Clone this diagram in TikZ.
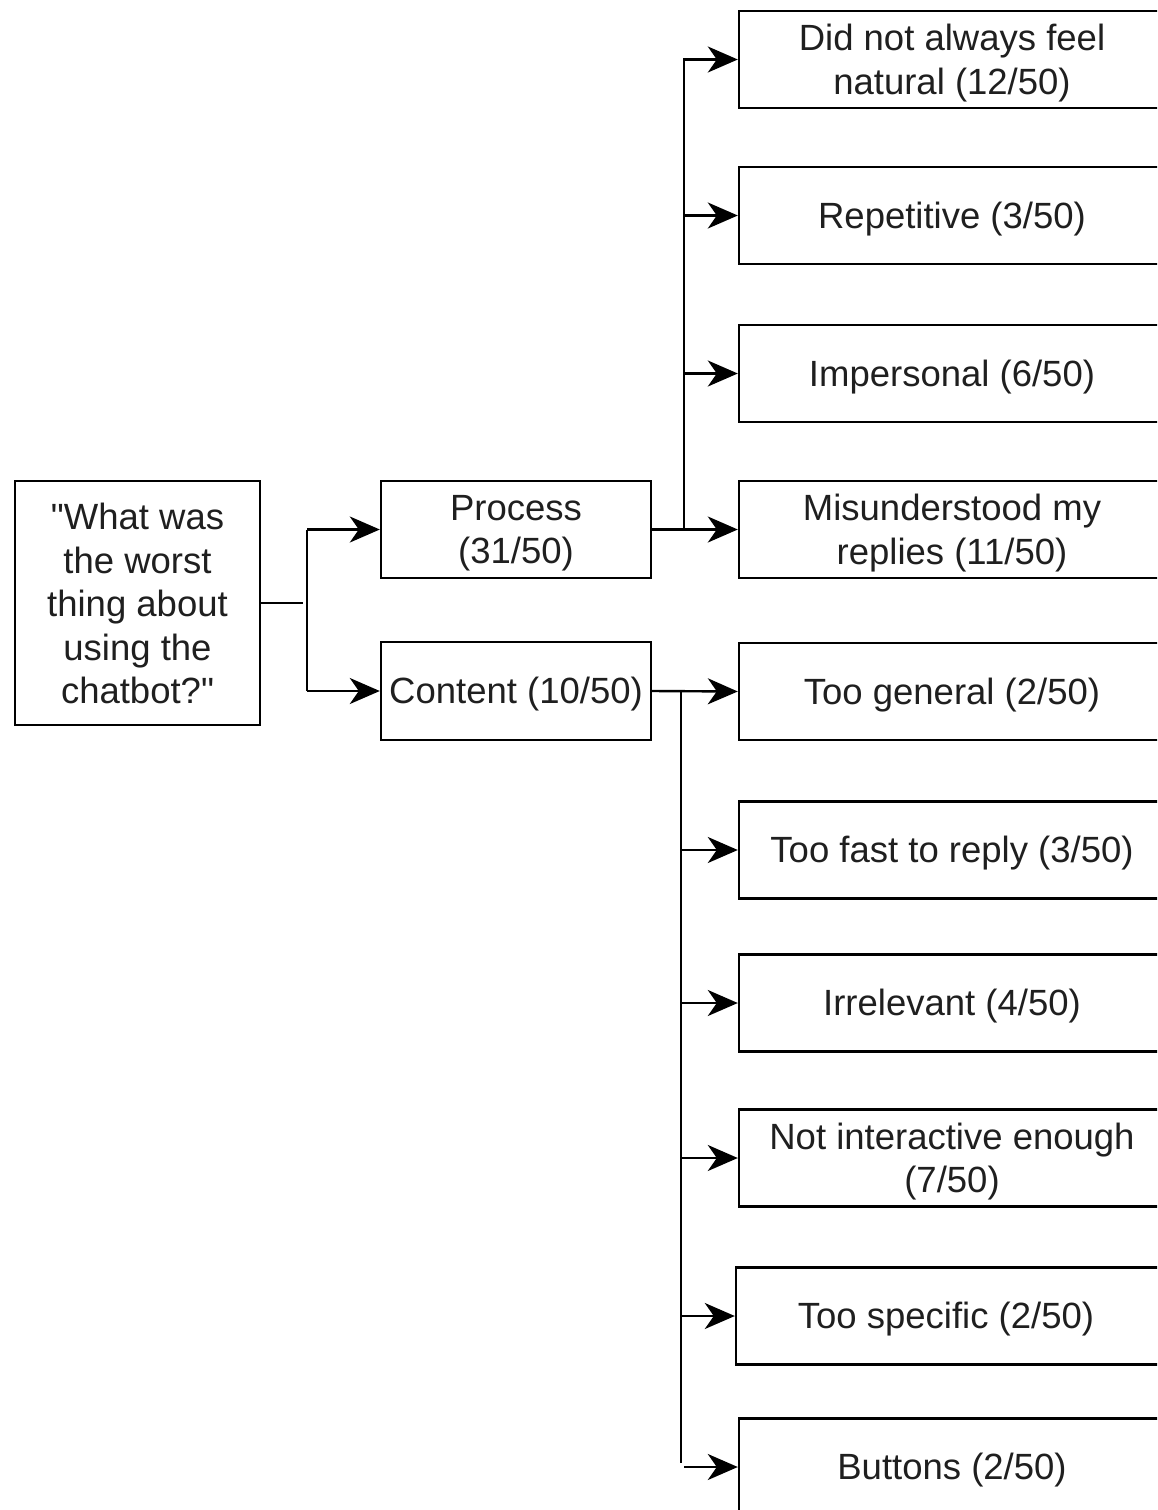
\documentclass[tikz,border=0pt]{standalone}
\usepackage{fontspec}
\newfontfamily\dfont{Liberation Sans}
\usetikzlibrary{arrows.meta}
\begin{document}
\begin{tikzpicture}[
  box/.style={draw, line width=2.4pt, inner sep=0pt},
  rbox/.style={box, minimum width=426pt, minimum height=97pt},
  txt/.style={align=center, inner sep=0pt, font=\dfont\fontsize{36.5}{43.5}\selectfont, text=black!88, yshift=-3.5pt},
  arr/.style={line width=2.4pt, -{Stealth[length=30pt,width=26pt,inset=9pt]}},
  ln/.style={line width=2.4pt}]
\clip (0,0) rectangle (1157pt,-1510pt);
% left nodes
\node[box, minimum width=245pt, minimum height=244pt] (root) at (137.5pt,-603pt) {};
\node[txt, yshift=3pt] (roott) at (root) {"What was\\the worst\\thing about\\using the\\chatbot?"};
\node[box, minimum width=270pt, minimum height=97pt] (proc) at (516pt,-529.5pt) {};
\node[txt] (proct) at (proc) {Process\\(31/50)};
\node[box, minimum width=270pt, minimum height=98pt] (cont) at (516pt,-691pt) {};
\node[txt] (contt) at (cont) {Content (10/50)};
% right nodes
\node[rbox] (r1) at (952pt,-59.5pt) {};
\node[txt] (r1t) at (r1) {Did not always feel\\natural (12/50)};
\node[rbox] (r2) at (952pt,-215.5pt) {};
\node[txt] (r2t) at (r2) {Repetitive (3/50)};
\node[rbox] (r3) at (952pt,-373.5pt) {};
\node[txt] (r3t) at (r3) {Impersonal (6/50)};
\node[rbox] (r4) at (952pt,-529.5pt) {};
\node[txt] (r4t) at (r4) {Misunderstood my\\replies (11/50)};
\node[rbox] (r5) at (952pt,-691.5pt) {};
\node[txt] (r5t) at (r5) {Too general (2/50)};
\node[rbox] (r6) at (952pt,-850pt) {};
\node[txt] (r6t) at (r6) {Too fast to reply (3/50)};
\node[rbox] (r7) at (952pt,-1003pt) {};
\node[txt] (r7t) at (r7) {Irrelevant (4/50)};
\node[rbox] (r8) at (952pt,-1158pt) {};
\node[txt] (r8t) at (r8) {Not interactive enough\\(7/50)};
\node[rbox, minimum width=432pt] (r9) at (952pt,-1316pt) {};
\node[txt] (r9t) at (946pt,-1316pt) {Too specific (2/50)};
\node[rbox] (r10) at (952pt,-1467pt) {};
\node[txt] (r10t) at (r10) {Buttons (2/50)};
% root connectors
\coordinate (rt) at (307pt,-529.5pt);
\coordinate (rb) at (307pt,-691pt);
\draw[ln] (root.east) -- (303pt,-603pt);
\draw[ln] (rt) -- (rb);
\draw[arr] (rt) -- (proc.west);
\draw[arr] (rb) -- (cont.west);
% process branch
\coordinate (pt) at (684pt,-67pt);
\coordinate (pb) at (684pt,-529.5pt);
\draw[arr] (proc.east) -- (r4.west);
\draw[ln] (pb) -- (pt);
\draw[arr] (pt) |- (r1.west);
\draw[arr] (684pt,-215.5pt) -- (r2.west);
\draw[arr] (684pt,-373.5pt) -- (r3.west);
% content branch
\coordinate (ct) at (681pt,-691pt);
\coordinate (cb) at (681pt,-1463pt);
\draw[arr] (cont.east) -- (r5.west);
\draw[ln] (ct) -- (cb);
\draw[arr] (681pt,-850pt) -- (r6.west);
\draw[arr] (681pt,-1003pt) -- (r7.west);
\draw[arr] (681pt,-1158pt) -- (r8.west);
\draw[arr] (681pt,-1316pt) -- (r9.west);
\draw[arr] (684pt,-1467pt) -- (r10.west);
\end{tikzpicture}
\end{document}
